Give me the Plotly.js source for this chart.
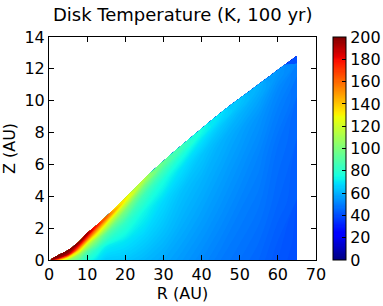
<!DOCTYPE html>
<html><head><meta charset="utf-8">
<script src="https://cdn.plot.ly/plotly-3.0.1.min.js"></script>
<style>html,body{margin:0;padding:0;background:#fff;}#chart{width:383px;height:306px;}</style>
</head><body><div id="chart"></div>
<script>
// Radius nodes (AU) and disk upper surface height (AU)
const R_AU  = [0.5, 2, 5, 8, 10, 12.5, 15, 20, 25, 30, 35, 40, 45, 50, 55, 60, 65];
const Z_TOP = [0.05, 0.25, 0.62, 1.2, 1.7, 2.2, 2.75, 3.9, 5.12, 6.22, 7.25, 8.25, 9.25, 10.15, 11.05, 11.95, 12.83];
// Fractional height Z / Z_TOP at which temperature was read
const F_LEV = [0, 0.3, 0.6, 0.8, 0.9, 0.96, 1.0];
// Temperature (K) along each fractional height, one value per R node
const T_f000 = [190, 150, 108,  90,  78,  70,  65,  64, 61, 58, 55, 52, 49, 47, 45, 42, 40];
const T_f030 = [200, 185, 135, 105,  90,  80,  72,  70, 67, 63, 59, 56, 53, 50, 48, 45, 43];
const T_f060 = [205, 200, 190, 145, 122, 105,  92,  82, 74, 68, 63, 60, 57, 54, 51, 47, 45];
const T_f080 = [205, 205, 198, 180, 165, 140, 122, 100, 85, 76, 69, 64, 60, 57, 54, 50, 47];
const T_f090 = [205, 205, 203, 192, 185, 160, 145, 118, 97, 85, 76, 69, 64, 60, 57, 52, 49];
const T_f096 = [205, 205, 205, 200, 195, 175, 160, 130,108, 92, 83, 74, 68, 63, 59, 54, 51];
const T_f100 = [205, 205, 205, 202, 198, 180, 165, 133,115, 96, 86, 76, 70, 64, 60, 55, 52];
const CBAR_TICKS = [0, 20, 40, 60, 80, 100, 120, 140, 160, 180, 200];

const T_TABLE = [T_f000, T_f030, T_f060, T_f080, T_f090, T_f096, T_f100];
const gridX = F_LEV.map(() => R_AU.slice());
const gridY = F_LEV.map(f => Z_TOP.map(z => z * f));

const jet = [
  [0, 'rgb(0,0,128)'], [0.11, 'rgb(0,0,255)'], [0.125, 'rgb(0,0,255)'],
  [0.34, 'rgb(0,219,255)'], [0.35, 'rgb(0,229,247)'], [0.375, 'rgb(21,255,226)'],
  [0.64, 'rgb(238,255,8)'], [0.65, 'rgb(247,245,0)'], [0.66, 'rgb(255,236,0)'],
  [0.89, 'rgb(255,19,0)'], [0.91, 'rgb(232,0,0)'], [1, 'rgb(128,0,0)']
];

const hiddenAxis = {showgrid:false, showline:false, startline:false, endline:false,
  showticklabels:'none', minorgridcount:0, tickmode:'array', tickvals:[]};

const font = {family:'DejaVu Sans, sans-serif', size:16, color:'#000'};

const data = [
  {type:'carpet', carpet:'disk', a:R_AU, b:F_LEV, x:gridX, y:gridY,
   aaxis:Object.assign({smoothing:1}, hiddenAxis),
   baxis:Object.assign({smoothing:0}, hiddenAxis), hoverinfo:'skip'},
  {type:'contourcarpet', carpet:'disk', a:R_AU, b:F_LEV, z:T_TABLE,
   autocontour:false, contours:{start:0, end:200, size:1, coloring:'fill', showlines:false},
   line:{width:0}, colorscale:jet, zauto:false, zmin:0, zmax:200,
   colorbar:{x:1.0637, xanchor:'left', thickness:13, len:1, lenmode:'fraction', y:0.5, yanchor:'middle',
     outlinewidth:1, outlinecolor:'#000', ticks:'inside', ticklen:4, tickcolor:'#000',
     tickmode:'array', tickvals:CBAR_TICKS, ticktext:CBAR_TICKS.map(String), tickfont:font, xpad:0, ypad:0}}
];

const layout = {
  width:383, height:306, paper_bgcolor:'#fff', plot_bgcolor:'#fff',
  margin:{l:49, r:67, t:37, b:46, autoexpand:false}, showlegend:false, font:font,
  title:{text:'Disk Temperature (K, 100 yr)', font:Object.assign({}, font, {size:18}), x:0.477, xanchor:'center', y:0.951, yanchor:'middle', yref:'container', xref:'container'},
  xaxis:{range:[0,70], dtick:10, tick0:0, ticks:'inside', ticklen:5, tickcolor:'#000', mirror:'ticks',
    showline:true, linecolor:'#000', linewidth:1, showgrid:false, zeroline:false, tickfont:font,
    title:{text:'R (AU)', font:font, standoff:4}},
  yaxis:{range:[0,14], dtick:2, tick0:0, ticks:'inside', ticklen:5, tickcolor:'#000', mirror:'ticks',
    showline:true, linecolor:'#000', linewidth:1, showgrid:false, zeroline:false, tickfont:font,
    title:{text:'Z (AU)', font:font, standoff:6}}
};

Plotly.newPlot('chart', data, layout, {staticPlot:true, displayModeBar:false});
</script></body></html>
